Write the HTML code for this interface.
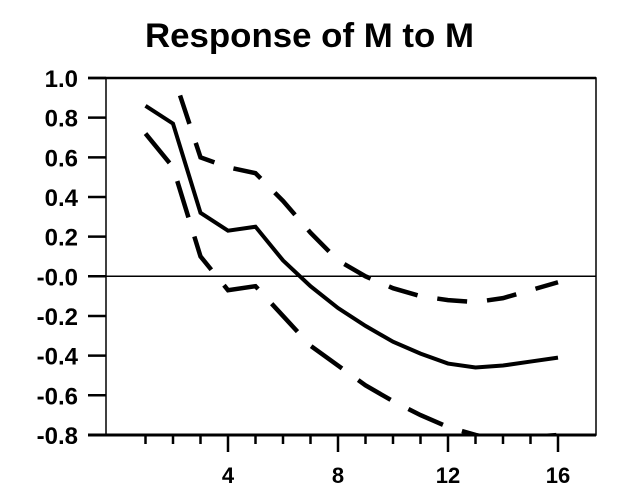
<!DOCTYPE html>
<html><head><meta charset="utf-8"><style>
body{margin:0;background:#fff;}
svg text{font-family:"Liberation Sans",Arial,sans-serif;font-weight:bold;fill:#000;}
</style></head><body>
<svg width="625" height="496">
<text x="145" y="47" font-size="34" textLength="329" lengthAdjust="spacingAndGlyphs">Response of M to M</text>
<defs><clipPath id="pc"><rect x="106" y="78" width="490" height="357"/></clipPath></defs>
<g id="axes"></g>
<g id="series" clip-path="url(#pc)"></g>
</svg>
<script>
const periods=[1,2,3,4,5,6,7,8,9,10,11,12,13,14,15,16];
const response=[0.86,0.77,0.32,0.23,0.25,0.08,-0.05,-0.16,-0.25,-0.33,-0.39,-0.44,-0.46,-0.45,-0.43,-0.41];
const upperBand=[1.02,1.02,0.6,0.55,0.52,0.38,0.22,0.08,0.0,-0.06,-0.1,-0.12,-0.13,-0.11,-0.07,-0.03];
const lowerBand=[0.72,0.55,0.1,-0.07,-0.05,-0.2,-0.35,-0.45,-0.55,-0.63,-0.7,-0.76,-0.8,-0.83,-0.81,-0.8];
const yTicks=[1.0,0.8,0.6,0.4,0.2,-0.0,-0.2,-0.4,-0.6,-0.8];
const yTickLabels=["1.0","0.8","0.6","0.4","0.2","-0.0","-0.2","-0.4","-0.6","-0.8"];
const xTickLabels=[4,8,12,16];
const NS="http://www.w3.org/2000/svg";
const L=106,R=596,T=78,B=435;
const xS=t=>228+27.5*(t-4);
const yS=v=>276.3-198.3*v;
function mk(tag,attrs,parent){const e=document.createElementNS(NS,tag);for(const k in attrs)e.setAttribute(k,attrs[k]);parent.appendChild(e);return e;}
const ax=document.getElementById('axes'),se=document.getElementById('series');
let f=mk('rect',{x:L,y:T,width:R-L,height:B-T,fill:'none',stroke:'#000','stroke-width':1.5},ax);


let bx=mk('line',{x1:88,x2:R,y1:B,y2:B,stroke:'#000','stroke-width':3},ax);


let tp=mk('line',{x1:88,x2:R,y1:T,y2:T,stroke:'#000','stroke-width':2.5},ax);


let z=mk('line',{x1:88,x2:R,y1:yS(0),y2:yS(0),stroke:'#000','stroke-width':1.5},ax);


yTicks.forEach((v,i)=>{
 let tk=mk('line',{x1:88,x2:L,y1:yS(v),y2:yS(v),stroke:'#000','stroke-width':2.5},ax);
 
 
 let tx=mk('text',{x:78,y:yS(v)+9,'text-anchor':'end','font-size':24},ax);
 tx.textContent=yTickLabels[i];
 
 
});
periods.forEach(t=>{
 const major=xTickLabels.includes(t);
 let tk=mk('line',{x1:xS(t),x2:xS(t),y1:B,y2:B+(major?17:9),stroke:'#000','stroke-width':2.5},ax);
 
 
});
xTickLabels.forEach(t=>{
 let tx=mk('text',{x:xS(t),y:483,'text-anchor':'middle','font-size':22},ax);
 tx.textContent=String(t);
 
 
});
function pts(a){return a.map((v,i)=>xS(periods[i])+','+yS(v)).join(' ');}
let p=mk('polyline',{points:pts(upperBand),fill:'none',stroke:'#000','stroke-width':4.5,'stroke-dasharray':'30 20'},se);


p=mk('polyline',{points:pts(lowerBand),fill:'none',stroke:'#000','stroke-width':4.5,'stroke-dasharray':'38 20'},se);


p=mk('polyline',{points:pts(response),fill:'none',stroke:'#000','stroke-width':4},se);


</script>
</body></html>
